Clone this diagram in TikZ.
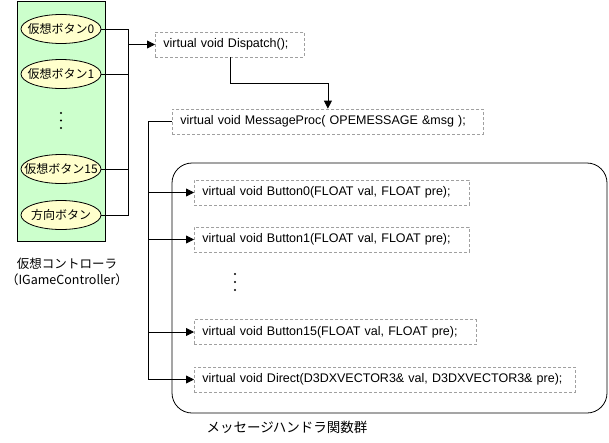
\documentclass[tikz,border=0pt]{standalone}
\usepackage{fontspec}
\setmainfont{Liberation Sans}
\newfontfamily\jpfont{Noto Sans CJK JP}
\usepackage{tikz}
\usetikzlibrary{shapes.geometric,arrows.meta}
\definecolor{padgreen}{HTML}{CCFFCC}
\definecolor{btnyellow}{HTML}{FFFFCC}
\definecolor{boxgray}{HTML}{A0A0A0}
\tikzset{
  pad/.style={draw, fill=padgreen, minimum width=88pt, minimum height=240pt, inner sep=0pt},
  btn/.style={ellipse, draw, fill=btnyellow, minimum width=80pt, minimum height=29pt,
              inner xsep=-10pt, inner ysep=0pt, font=\jpfont\fontsize{12}{14}\selectfont},
  jp/.style={font=\jpfont\fontsize{12.5}{15.5}\selectfont, inner sep=0pt},
  fn/.style={draw=boxgray, dash pattern=on 3pt off 2pt, anchor=west, align=left,
             minimum height=25pt, inner xsep=8pt, inner ysep=0pt,
             font=\fontsize{12.5}{14}\selectfont},
  arr/.style={-{Triangle[length=8pt,width=8pt]}},
}

\begin{document}
\begin{tikzpicture}[x=1pt,y=-1pt,line width=0.8pt]
   \useasboundingbox (0,0) rectangle (609,442);

   % virtual controller
   \node[pad] (ctrl) at (61,121) {};
   \node[btn] (b0) at (61,29) {仮想ボタン0};
   \node[btn] (b1) at (61,74) {仮想ボタン1};
   \foreach \y in {113,120.5,128}
     \fill (61,\y) circle (1.1pt);
   \node[btn] (b15) at (61,169) {仮想ボタン15};
   \node[btn] (bdir) at (61,215) {方向ボタン};
   \node[jp, align=center] (ctrlname) at (67,272) {仮想コントローラ\\（IGameController）};

   % button lines into Dispatch
   \coordinate (bus) at (128,0);
   \draw (b0.east) -- (b0.east -| bus) -- (bdir.east -| bus) -- (bdir.east);
   \foreach \b in {b1,b15}
     \draw (\b.east) -- (\b.east -| bus);

   \node[fn, text width=133pt] (disp) at (155,44.5) {virtual void Dispatch();};
   \draw[arr] (disp.west -| bus) -- (disp.west);

   \node[fn, text width=295pt] (msgproc) at (172,121.5) {virtual void MessageProc( OPEMESSAGE \&msg );};
   \draw[arr] (disp.south) -- ++(0,26) -| (msgproc.north);

   % message handlers
   \node[draw, rounded corners=20pt, minimum width=435pt, minimum height=250pt, inner sep=0pt] (hgroup) at (389.5,288) {};
   \node[fn, text width=259pt] (h0) at (194,192.5) {virtual void Button0(FLOAT val, FLOAT pre);};
   \node[fn, text width=259pt] (h1) at (194,239.5) {virtual void Button1(FLOAT val, FLOAT pre);};
   \foreach \y in {274,282,290}
     \fill (235,\y) circle (1.1pt);
   \node[fn, text width=266pt] (h15) at (194,332) {virtual void Button15(FLOAT val, FLOAT pre);};
   \node[fn, text width=365pt] (hdir) at (194,379.5) {virtual void Direct(D3DXVECTOR3\& val, D3DXVECTOR3\& pre);};
   \node[jp, font=\jpfont\fontsize{13.5}{15}\selectfont] (hname) at (287,427) {メッセージハンドラ関数群};

   \coordinate (hbus) at (148,0);
   \draw (msgproc.west) -- (msgproc.west -| hbus) -- (hdir.west -| hbus);
   \foreach \h in {h0,h1,h15,hdir}
     \draw[arr] (\h.west -| hbus) -- (\h.west);
%   \draw[dashed] (hbus) -- (msgproc.west);
\end{tikzpicture}
\end{document}
